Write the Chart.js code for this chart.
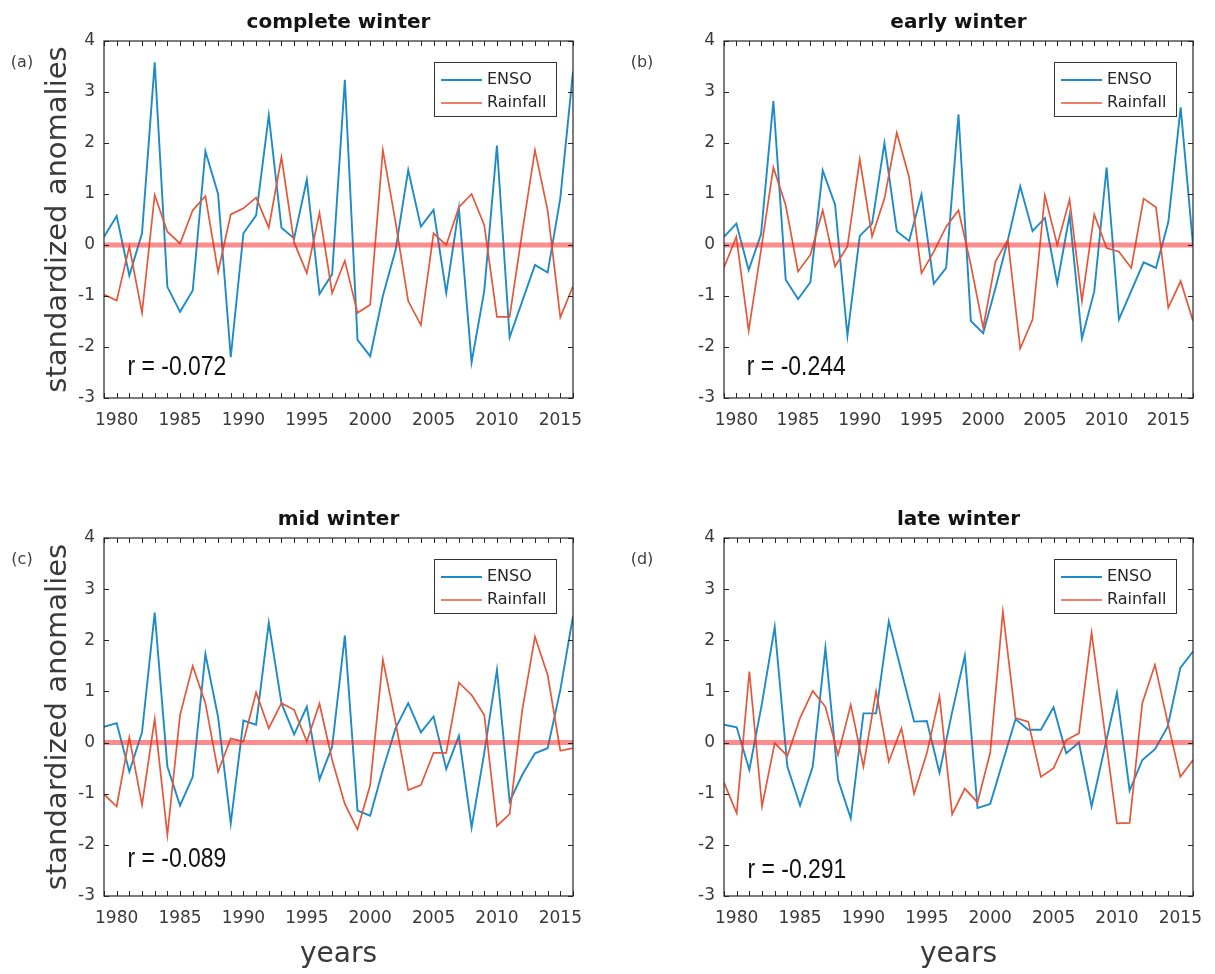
<!DOCTYPE html>
<html>
<head>
<meta charset="utf-8">
<title>ENSO and winter rainfall anomalies</title>
<script src="https://cdn.jsdelivr.net/npm/chart.js@4.4.1/dist/chart.umd.min.js"></script>
<style>
  html, body { margin: 0; padding: 0; background: #fff; }
  #figure { position: relative; width: 1215px; height: 974px; }
  #figure canvas { position: absolute; }
</style>
</head>
<body>
<div id="figure">
  <canvas id="completeChart" width="607" height="487" style="left:0;top:0"></canvas>
  <canvas id="earlyChart" width="608" height="487" style="left:607px;top:0"></canvas>
  <canvas id="midChart" width="607" height="487" style="left:0;top:487px"></canvas>
  <canvas id="lateChart" width="608" height="487" style="left:607px;top:487px"></canvas>
</div>
<script>
const years = [1979, 1980, 1981, 1982, 1983, 1984, 1985, 1986, 1987, 1988,
    1989, 1990, 1991, 1992, 1993, 1994, 1995, 1996, 1997, 1998,
    1999, 2000, 2001, 2002, 2003, 2004, 2005, 2006, 2007, 2008,
    2009, 2010, 2011, 2012, 2013, 2014, 2015, 2016];
const yearsEarly = years.concat([2017]);

const yearTicks = [1980, 1985, 1990, 1995, 2000, 2005, 2010, 2015];
const anomalyTicks = [-3, -2, -1, 0, 1, 2, 3, 4];

// complete winter
const ensoComplete = [0.16, 0.57, -0.6, 0.23, 3.58, -0.82, -1.31, -0.89, 1.84, 1.0,
    -2.2, 0.23, 0.58, 2.54, 0.34, 0.13, 1.28, -0.96, -0.57, 3.24,
    -1.86, -2.18, -1.0, -0.1, 1.47, 0.36, 0.69, -0.94, 0.72, -2.3,
    -0.9, 1.95, -1.81, -1.1, -0.39, -0.54, 0.92, 3.4];
const rainComplete = [-0.97, -1.09, -0.03, -1.33, 0.98, 0.26, 0.03, 0.68, 0.96, -0.53,
    0.6, 0.72, 0.93, 0.34, 1.72, 0.05, -0.55, 0.63, -0.94, -0.31,
    -1.33, -1.17, 1.86, 0.45, -1.1, -1.57, 0.23, 0.0, 0.74, 1.0,
    0.39, -1.41, -1.41, 0.26, 1.86, 0.68, -1.42, -0.81];

// early winter (one more year)
const ensoEarly = [0.16, 0.42, -0.49, 0.21, 2.82, -0.68, -1.06, -0.73, 1.46, 0.79,
    -1.78, 0.18, 0.42, 2.0, 0.27, 0.08, 0.99, -0.76, -0.45, 2.56,
    -1.49, -1.73, -0.84, 0.1, 1.15, 0.27, 0.53, -0.76, 0.58, -1.83,
    -0.91, 1.52, -1.46, -0.9, -0.34, -0.45, 0.45, 2.7, 0.0];
const rainEarly = [-0.44, 0.16, -1.68, -0.1, 1.52, 0.78, -0.52, -0.19, 0.68, -0.42,
    -0.03, 1.68, 0.17, 0.91, 2.2, 1.33, -0.55, -0.13, 0.36, 0.68,
    -0.39, -1.62, -0.32, 0.1, -2.03, -1.46, 0.97, 0.0, 0.89, -1.1,
    0.6, -0.06, -0.13, -0.45, 0.91, 0.74, -1.23, -0.71, -1.49];

// mid winter
const ensoMid = [0.31, 0.38, -0.57, 0.2, 2.54, -0.47, -1.23, -0.67, 1.73, 0.5,
    -1.58, 0.43, 0.35, 2.34, 0.77, 0.16, 0.7, -0.72, -0.08, 2.09,
    -1.33, -1.43, -0.53, 0.28, 0.77, 0.2, 0.51, -0.52, 0.13, -1.66,
    -0.2, 1.42, -1.15, -0.63, -0.21, -0.11, 1.03, 2.47];
const rainMid = [-1.01, -1.25, 0.1, -1.22, 0.46, -1.81, 0.54, 1.5, 0.77, -0.57,
    0.08, 0.02, 0.98, 0.28, 0.77, 0.64, 0.02, 0.76, -0.34, -1.2,
    -1.7, -0.83, 1.62, 0.4, -0.93, -0.83, -0.2, -0.2, 1.17, 0.93,
    0.54, -1.63, -1.4, 0.64, 2.07, 1.32, -0.16, -0.11];

// late winter
const ensoLate = [0.35, 0.3, -0.53, 0.77, 2.26, -0.47, -1.23, -0.47, 1.85, -0.73,
    -1.48, 0.57, 0.57, 2.37, 1.39, 0.41, 0.42, -0.59, 0.6, 1.7,
    -1.28, -1.2, -0.37, 0.46, 0.25, 0.25, 0.69, -0.21, 0.0, -1.25,
    -0.14, 0.97, -0.94, -0.34, -0.13, 0.31, 1.46, 1.78];
const rainLate = [-0.78, -1.38, 1.39, -1.25, -0.01, -0.26, 0.48, 1.01, 0.7, -0.24,
    0.74, -0.47, 1.0, -0.37, 0.28, -1.0, -0.21, 0.9, -1.4, -0.9,
    -1.17, -0.2, 2.56, 0.48, 0.41, -0.67, -0.5, 0.05, 0.18, 2.15,
    0.28, -1.58, -1.57, 0.77, 1.52, 0.4, -0.67, -0.34];

const ENSO_COLOR = '#1f8bc6';
const RAIN_COLOR = '#e4573a';
const FONT = '"DejaVu Sans", sans-serif';

// Axes box, inward tick marks, title, panel letter, correlation note and legend
const panelDecor = {
    id: 'panelDecor',
    afterDatasetsDraw(chart, args, opts) {
        const ctx = chart.ctx;
        const area = chart.chartArea;
        const xs = chart.scales.x;
        const ys = chart.scales.y;
        ctx.save();

        ctx.strokeStyle = '#262626';
        ctx.lineWidth = 1.2;
        ctx.strokeRect(area.left, area.top, area.right - area.left, area.bottom - area.top);

        ctx.beginPath();
        for (let yr = xs.min; yr <= xs.max; yr++) {
            const px = Math.round(xs.getPixelForValue(yr)) + 0.5;
            ctx.moveTo(px, area.bottom);
            ctx.lineTo(px, area.bottom - 5);
            ctx.moveTo(px, area.top);
            ctx.lineTo(px, area.top + 5);
        }
        anomalyTicks.forEach(v => {
            const py = Math.round(ys.getPixelForValue(v)) + 0.5;
            ctx.moveTo(area.left, py);
            ctx.lineTo(area.left + 5, py);
            ctx.moveTo(area.right, py);
            ctx.lineTo(area.right - 5, py);
        });
        ctx.lineWidth = 1;
        ctx.stroke();

        ctx.textAlign = 'center';
        ctx.textBaseline = 'middle';
        ctx.fillStyle = '#141414';
        ctx.font = 'bold 20px ' + FONT;
        ctx.fillText(opts.title, (area.left + area.right) / 2, area.top - 18);

        ctx.fillStyle = '#404040';
        ctx.font = '16px ' + FONT;
        ctx.fillText(opts.letter, area.left - 82, area.top + 22);

        // correlation note, squeezed horizontally to a narrow face
        ctx.save();
        ctx.translate(xs.getPixelForValue(opts.noteAt[0]), ys.getPixelForValue(opts.noteAt[1]));
        ctx.scale(0.82, 1);
        ctx.textAlign = 'left';
        ctx.fillStyle = '#111';
        ctx.font = '28px "Liberation Sans", sans-serif';
        ctx.fillText(opts.note, 0, 0);
        ctx.restore();

        // legend
        const boxW = 122, boxH = 54;
        const bx = area.right - 17 - boxW;
        const by = area.top + 21;
        ctx.fillStyle = '#fff';
        ctx.fillRect(bx, by, boxW, boxH);
        ctx.strokeStyle = '#333';
        ctx.lineWidth = 1;
        ctx.strokeRect(bx + 0.5, by + 0.5, boxW, boxH);
        ctx.textAlign = 'left';
        ctx.font = '16px ' + FONT;
        chart.data.datasets.filter(d => d.label).forEach((d, i) => {
            const ry = by + 18 + i * 23;
            ctx.strokeStyle = d.borderColor;
            ctx.lineWidth = d.borderWidth;
            ctx.beginPath();
            ctx.moveTo(bx + 7, ry);
            ctx.lineTo(bx + 48, ry);
            ctx.stroke();
            ctx.fillStyle = '#262626';
            ctx.fillText(d.label, bx + 53, ry);
        });
        ctx.restore();
    }
};

function toPoints(xValues, yValues) {
    return xValues.map((yr, i) => ({x: yr, y: yValues[i]}));
}

function makePanel(canvasId, cfg) {
    const ctx = document.getElementById(canvasId).getContext('2d');
    const xv = cfg.years;
    const first = xv[0];
    const last = xv[xv.length - 1];

    const data = {
        datasets: [{
            label: 'ENSO',
            data: toPoints(xv, cfg.enso),
            borderColor: ENSO_COLOR,
            borderWidth: 1.9,
            order: 2
        }, {
            label: 'Rainfall',
            data: toPoints(xv, cfg.rain),
            borderColor: RAIN_COLOR,
            borderWidth: 1.7,
            order: 1
        }, {
            label: '',
            data: [{x: first, y: 0}, {x: last, y: 0}],
            borderColor: 'rgba(245, 30, 30, 0.5)',
            borderWidth: 5,
            order: 0
        }]
    };

    const options = {
        responsive: false,
        animation: false,
        devicePixelRatio: 1,
        elements: {
            point: {radius: 0, hoverRadius: 0},
            line: {tension: 0, fill: false}
        },
        layout: {
            padding: {left: 0, top: cfg.top, right: cfg.right, bottom: 0}
        },
        plugins: {
            legend: {display: false},
            tooltip: {enabled: false},
            panelDecor: {
                title: cfg.title,
                letter: cfg.letter,
                note: cfg.note,
                noteAt: cfg.noteAt
            }
        },
        scales: {
            x: {
                type: 'linear',
                min: first,
                max: last,
                grid: {display: false, drawTicks: false},
                border: {display: false},
                afterBuildTicks: scale => {
                    scale.ticks = yearTicks.map(v => ({value: v}));
                },
                afterFit: scale => {
                    scale.height = cfg.xHeight;
                },
                ticks: {
                    autoSkip: false,
                    maxRotation: 0,
                    padding: 12,
                    color: '#3a3a3a',
                    font: {family: FONT, size: 17},
                    callback: v => String(v)
                },
                title: {
                    display: cfg.showYears,
                    text: 'years',
                    color: '#3a3a3a',
                    font: {family: FONT, size: 28},
                    padding: {top: 0, bottom: 2}
                }
            },
            y: {
                type: 'linear',
                min: -3,
                max: 4,
                grid: {display: false, drawTicks: false},
                border: {display: false},
                afterBuildTicks: scale => {
                    scale.ticks = anomalyTicks.map(v => ({value: v}));
                },
                afterFit: scale => {
                    scale.width = cfg.yWidth;
                },
                ticks: {
                    padding: 9,
                    color: '#3a3a3a',
                    font: {family: FONT, size: 17}
                },
                title: {
                    display: cfg.showYLabel,
                    text: 'standardized anomalies',
                    color: '#3a3a3a',
                    font: {family: FONT, size: 29},
                    padding: {top: 41, bottom: 0}
                }
            }
        }
    };

    return new Chart(ctx, {
        type: 'line',
        data: data,
        options: options,
        plugins: [panelDecor]
    });
}

makePanel('completeChart', {
    years: years, enso: ensoComplete, rain: rainComplete,
    title: 'complete winter', letter: '(a)', note: 'r = -0.072', noteAt: [1980.85, -2.39],
    top: 41, right: 34, xHeight: 89, yWidth: 104, showYears: false, showYLabel: true
});
makePanel('earlyChart', {
    years: yearsEarly, enso: ensoEarly, rain: rainEarly,
    title: 'early winter', letter: '(b)', note: 'r = -0.244', noteAt: [1980.85, -2.39],
    top: 41, right: 22, xHeight: 89, yWidth: 117, showYears: false, showYLabel: false
});
makePanel('midChart', {
    years: years, enso: ensoMid, rain: rainMid,
    title: 'mid winter', letter: '(c)', note: 'r = -0.089', noteAt: [1980.85, -2.28],
    top: 51, right: 34, xHeight: 78, yWidth: 104, showYears: true, showYLabel: true
});
makePanel('lateChart', {
    years: years, enso: ensoLate, rain: rainLate,
    title: 'late winter', letter: '(d)', note: 'r = -0.291', noteAt: [1980.85, -2.49],
    top: 51, right: 22, xHeight: 78, yWidth: 117, showYears: true, showYLabel: false
});
</script>
</body>
</html>
